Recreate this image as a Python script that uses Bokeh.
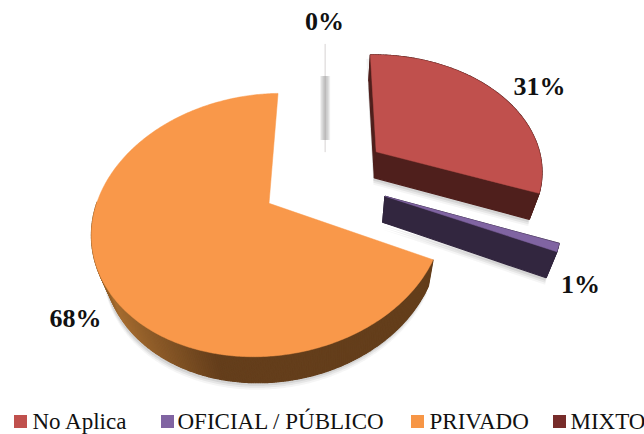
import numpy as np
from bokeh.plotting import figure
from bokeh.models import Range1d
from bokeh.core.properties import value
from bokeh.embed import file_html
from bokeh.resources import INLINE

# ---- data ----
categories = ["No Aplica", "OFICIAL / PÚBLICO", "PRIVADO", "MIXTO"]
values = [31, 1, 68, 0]
labels = ["31%", "1%", "68%", "0%"]

# ---- styles and layout ----
top_colors = ["#C0504D", "#8064A2", "#F9984A", "#C9C9C9"]
wall_colors = ["#4F1F1C", "#32263F", "#643E1B", "#C9C9C9"]
legend_colors = ["#C0504D", "#8064A2", "#F79646", "#772C2A"]
label_x = [539, 580, 75, 324]
label_y = [86, 284, 318, 21]
legend_sq_x = [20, 167, 417, 559]
legend_tx_x = [32, 177, 429, 570]
legend_y = 421

START = 0.5       # degrees, clockwise from 12 o'clock
EXPLODE = [0.39, 0.39, 0.37, 0.36]
CX, CY = 323, 177.5
RX, RY = 168, 120
PERSP = 0.16
TILT = 0.02
DEPTH = 26
VANISH_X, SHRINK = 340, 0.05
ZERO_TAIL = 15
BAND_FROM, BAND_TO = 32, 96


def project(u, v):
    w = 1 + PERSP * v
    x = CX + RX * u / w
    y = CY - RY * v / w
    return x, y - TILT * (x - CX)


def lower(x, y):
    return x - (x - VANISH_X) * SHRINK, y + DEPTH


def mix(c1, c2, f):
    a = [int(c1[i:i + 2], 16) for i in (1, 3, 5)]
    b = [int(c2[i:i + 2], 16) for i in (1, 3, 5)]
    return "#%02X%02X%02X" % tuple(int(round(p + (q - p) * f)) for p, q in zip(a, b))


p = figure(width=644, height=434, output_backend="svg", toolbar_location=None,
           x_range=Range1d(0, 644), y_range=Range1d(434, 0), min_border=0,
           outline_line_color=None, border_fill_color="white", background_fill_color="white")
p.axis.visible = False
p.grid.visible = False

total = sum(values)
slices = []
angle = START
for val, ex in zip(values, EXPLODE):
    span = 360 * val / total
    a0, a1 = np.radians(angle), np.radians(angle + span)
    mid = (a0 + a1) / 2
    ou, ov = ex * np.sin(mid), ex * np.cos(mid)
    t = np.linspace(a0, a1, max(2, int(span * 1.5)))
    tx, ty = project(ou, ov)
    ax, ay = project(ou + np.sin(t), ov + np.cos(t))
    front = np.cos(t) < 0.05     # part of the rim that faces the viewer
    slices.append((tx, ty, ax, ay, front))
    angle += span

# soft shadows below each lifted slice
for i in (0, 1, 2):
    tx, ty, ax, ay, front = slices[i]
    if i == 2:
        X, Y = ax[front], ay[front]
    else:
        X, Y = np.r_[tx, ax], np.r_[ty, ay]
    lx, ly = lower(X, Y)
    for off, alpha in ((7, .04), (5, .06), (3, .08)):
        p.patch(lx - 1, ly + off, fill_color="#000000", fill_alpha=alpha, line_color=None)
    if i != 2:
        p.patch(X - 4, Y + 4, fill_color="#000000", fill_alpha=.05, line_color=None)

# the empty slice: a hairline from centre to rim with a blurred grey band
tx, ty, ax, ay, front = slices[3]
zx = ax[0]
p.line([zx, zx], [ty + ZERO_TAIL, ay[0]], line_color="#D6D2D2", line_width=1)
for w, alpha in ((10, .12), (8, .16), (5, .2)):
    p.line([zx, zx], [ay[0] + BAND_FROM, ay[0] + BAND_TO], line_color="#808080", line_alpha=alpha, line_width=w)

# walls and top faces
for i in (0, 1, 2):
    tx, ty, ax, ay, front = slices[i]
    if i == 2:   # only the front of the big slice's rim shows a wall
        X, Y = ax[front], ay[front]
    else:
        X = np.r_[tx, ax, tx]
        Y = np.r_[ty, ay, ty]
    LX, LY = lower(X, Y)
    xs, ys, cols = [], [], []
    for j in range(len(X) - 1):
        xs.append([X[j], X[j + 1], LX[j + 1], LX[j]])
        ys.append([Y[j], Y[j + 1], LY[j + 1], LY[j]])
        mx = (X[j] + X[j + 1]) / 2
        c = wall_colors[i]
        if i == 2:
            if mx < 110:
                c = mix("#8A5A25", "#A56C30", max(0, (mx - 90) / 20))
            elif mx < 215:
                c = mix("#A56C30", wall_colors[i], (mx - 110) / 105)
        cols.append(c)
    p.patches(xs, ys, fill_color=cols, line_color=cols, line_width=1.2)
    FX, FY = np.r_[tx, ax], np.r_[ty, ay]
    p.patch(FX, FY, fill_color=top_colors[i], line_color=top_colors[i], line_width=0.5)

# value labels
p.text(label_x, label_y, text=labels, text_font=value("Liberation Serif"), text_font_style="bold",
       text_font_size="26px", text_color="#111111", text_align="center", text_baseline="middle")

# legend
p.scatter(legend_sq_x, [legend_y] * 4, marker="square", size=13, fill_color=legend_colors, line_color=None)
p.text(legend_tx_x, [legend_y] * 4, text=categories, text_font=value("Liberation Serif"),
       text_font_size="23px", text_color="#111111", text_align="left", text_baseline="middle")

open("out.html", "w").write(file_html(p, INLINE))
